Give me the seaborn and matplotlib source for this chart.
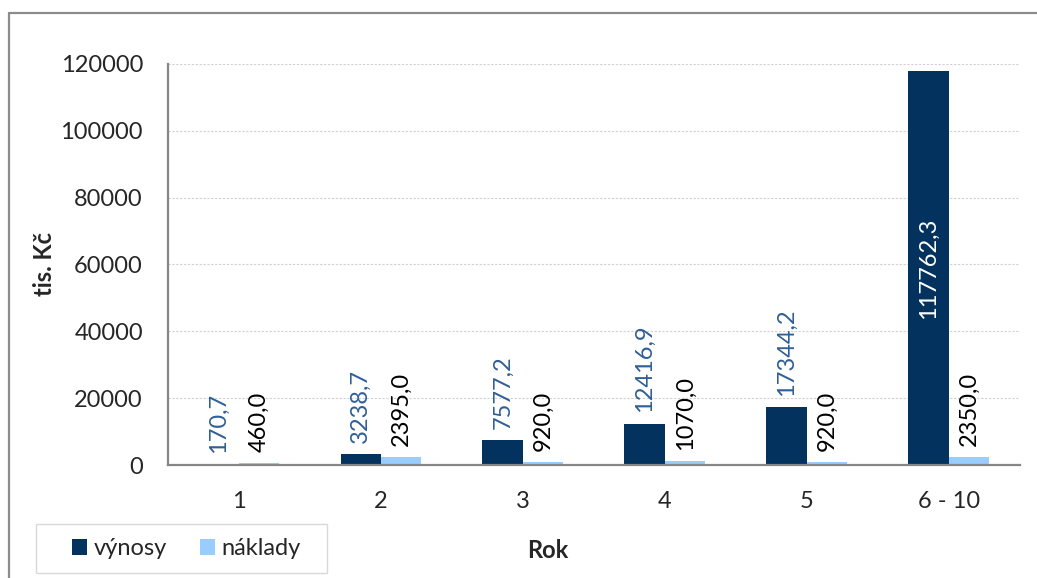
import matplotlib
matplotlib.use("Agg")
import matplotlib.pyplot as plt
from matplotlib.lines import Line2D
from matplotlib.patches import Patch, Rectangle
import pandas as pd
import seaborn as sns

# Data
years = ["1", "2", "3", "4", "5", "6 - 10"]
vynosy = [170.7, 3238.7, 7577.2, 12416.9, 17344.2, 117762.3]
naklady = [460.0, 2395.0, 920.0, 1070.0, 920.0, 2350.0]
series_names = ["výnosy", "náklady"]
y_ticks = [0, 20000, 40000, 60000, 80000, 100000, 120000]

colors = {"výnosy": "#03325F", "náklady": "#99CCFF"}
label_colors = {"výnosy": "#2F5F96", "náklady": "#000000"}

df = pd.DataFrame({
    "Rok": years * 2,
    "hodnota": vynosy + naklady,
    "serie": [series_names[0]] * len(years) + [series_names[1]] * len(years),
})

sns.set_style("white")
plt.rcParams["font.family"] = ["Lato", "DejaVu Sans"]
FS = 17

fig = plt.figure(figsize=(10.37, 5.78), dpi=100)
ax = fig.add_axes([0.162, 0.1955, 0.8215, 0.6938])

sns.barplot(data=df, x="Rok", y="hodnota", hue="serie", hue_order=series_names,
            palette=colors, width=0.57, saturation=1, legend=False, ax=ax,
            edgecolor="none", linewidth=0)

ax.set_ylim(0, 120000)
ax.set_xlim(-0.5, len(years) - 0.5)
ax.set_yticks(y_ticks)
ax.set_yticklabels([str(t) for t in y_ticks])
ax.tick_params(axis="y", length=0, pad=18, labelsize=FS)
ax.tick_params(axis="x", length=0, pad=19, labelsize=FS)
ax.yaxis.grid(True, color="#D0D0D0", linestyle=(0, (2, 1.5)), linewidth=0.8)
ax.set_axisbelow(True)

for side in ["top", "right"]:
    ax.spines[side].set_visible(False)
for side in ["left", "bottom"]:
    ax.spines[side].set_color("#868686")
    ax.spines[side].set_linewidth(1.6)

ax.set_ylabel("tis. Kč", fontsize=FS, fontweight="bold")
ax.yaxis.set_label_coords(-0.1315, 0.5)
ax.set_xlabel("Rok", fontsize=FS, fontweight="bold")
ax.xaxis.set_label_coords(0.446, -0.185)

# Value labels
for container, name in zip(ax.containers, series_names):
    for bar, val in zip(container, df.loc[df["serie"] == name, "hodnota"]):
        text = f"{val:.1f}".replace(".", ",")
        cx = bar.get_x() + bar.get_width() / 2
        h = bar.get_height()
        if h > 60000:
            ax.text(cx, h / 2, text, rotation=90, ha="center", va="center",
                    color="white", fontsize=FS)
        else:
            ax.annotate(text, (cx, h), xytext=(0, 8), textcoords="offset points",
                        rotation=90, ha="center", va="bottom",
                        color=label_colors[name], fontsize=FS)

# Legend with its own frame box
box_x0, box_y0, box_w, box_h = 36 / 1037, 1 - 573 / 578, 291 / 1037, 49 / 578
fig.add_artist(Rectangle((box_x0, box_y0), box_w, box_h, transform=fig.transFigure,
                         facecolor="white", edgecolor="#D9D9D9", linewidth=1.0))
handles = [Patch(facecolor=colors[n], edgecolor="none") for n in series_names]
leg = fig.legend(handles, series_names, loc="center",
                 bbox_to_anchor=(box_x0 + 0.0045, box_y0, box_w, box_h),
                 ncol=2, fontsize=FS, frameon=False,
                 handlelength=0.65, handleheight=0.65, handletextpad=0.25,
                 columnspacing=1.4, borderaxespad=0, borderpad=0)

# Outer chart border
fig.add_artist(Line2D([8.5 / 1037, 1.0], [1 - 12.5 / 578, 1 - 12.5 / 578],
                      transform=fig.transFigure, color="#8C8C8C", linewidth=1.6))
fig.add_artist(Line2D([8.5 / 1037, 8.5 / 1037], [0.0, 1 - 12.5 / 578],
                      transform=fig.transFigure, color="#8C8C8C", linewidth=1.6))

fig.savefig("out.png", dpi=100, facecolor="white")
